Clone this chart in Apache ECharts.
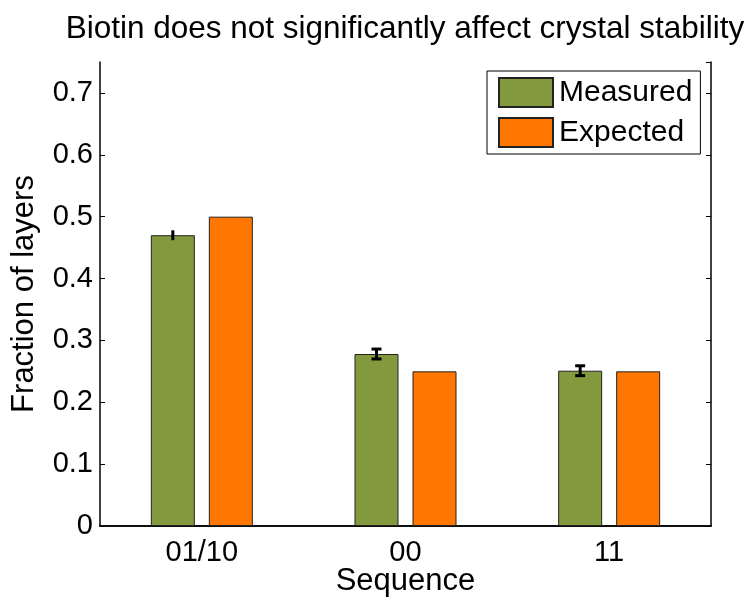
<!DOCTYPE html>
<html><head><meta charset="utf-8">
<script src="https://cdn.jsdelivr.net/npm/echarts@6/dist/echarts.min.js"></script>
<style>html,body{margin:0;padding:0;background:#fff}#c{width:749px;height:600px}</style>
</head><body><div id="c"></div>
<script>
var categories = ['01/10', '00', '11'];
var measured = [0.470, 0.278, 0.251];
var measuredErr = [0.008, 0.008, 0.008];
var expected = [0.5, 0.25, 0.25];
var yTicks = [0, 0.1, 0.2, 0.3, 0.4, 0.5, 0.6, 0.7];

var FONT = 'Liberation Sans';
var BAR_W = 44, BAR_GAP = 14;
var chart = echarts.init(document.getElementById('c'));

var errData = measured.map(function (v, i) { return [i, v, measuredErr[i]]; });

chart.setOption({
  animation: false,
  textStyle: { fontFamily: FONT, color: '#000' },
  title: {
    text: 'Biotin does not significantly affect crystal stability',
    left: 400, top: 8, textAlign: 'center',
    textStyle: { fontFamily: FONT, fontSize: 31.5, fontWeight: 'normal', color: '#000' }
  },
  grid: { left: 100, right: 38, top: 62, bottom: 74, containLabel: false, outerBoundsMode: 'none' },
  legend: {
    left: 487, top: 71, orient: 'vertical',
    padding: [6, 8, 6, 11], itemGap: 9,
    itemWidth: 54, itemHeight: 29, icon: 'rect',
    borderColor: '#000', borderWidth: 1, backgroundColor: '#fff',
    textStyle: { fontFamily: FONT, fontSize: 30, color: '#000', padding: [0, 0, 0, 1] },
    data: ['Measured', 'Expected']
  },
  xAxis: [{
    type: 'category', data: categories, position: 'bottom',
    name: 'Sequence', nameLocation: 'middle', nameGap: 40, nameMoveOverlap: false,
    nameTextStyle: { fontFamily: FONT, fontSize: 31, color: '#000' },
    axisLine: { lineStyle: { color: '#000', width: 1.5 } },
    axisTick: { alignWithLabel: true, inside: true, length: 5, lineStyle: { color: '#000' } },
    axisLabel: { fontFamily: FONT, fontSize: 29, color: '#000', margin: 12 }
  }, {
    type: 'category', data: categories, position: 'top',
    axisLine: { lineStyle: { color: '#000', width: 1.5 } },
    axisTick: { alignWithLabel: true, inside: true, length: 5, lineStyle: { color: '#000' } },
    axisLabel: { show: false }
  }],
  yAxis: [{
    type: 'value', min: 0, max: 0.75, interval: 0.1, position: 'left',
    name: 'Fraction of layers', nameLocation: 'middle', nameGap: 60, nameMoveOverlap: false,
    nameTextStyle: { fontFamily: FONT, fontSize: 31, color: '#000' },
    splitLine: { show: false },
    axisLine: { show: true, lineStyle: { color: '#000', width: 1.5 } },
    axisTick: { show: true, inside: true, length: 5, lineStyle: { color: '#000' } },
    axisLabel: { fontFamily: FONT, fontSize: 29, color: '#000', margin: 7, showMaxLabel: false,
      formatter: function (v) { return yTicks.indexOf(Math.round(v * 10) / 10) >= 0 && Math.abs(v * 10 - Math.round(v * 10)) < 1e-6 ? String(Math.round(v * 10) / 10) : ''; } }
  }, {
    type: 'value', min: 0, max: 0.75, interval: 0.1, position: 'right',
    splitLine: { show: false },
    axisLine: { show: true, lineStyle: { color: '#000', width: 1.5 } },
    axisTick: { show: true, inside: true, length: 5, lineStyle: { color: '#000' } },
    axisLabel: { show: false }
  }],
  series: [{
    name: 'Measured', type: 'bar', data: measured,
    barWidth: BAR_W, barGap: (BAR_GAP / BAR_W * 100) + '%',
    itemStyle: { color: '#83993d', borderColor: '#222', borderWidth: 1 }
  }, {
    name: 'Expected', type: 'bar', data: expected,
    barWidth: BAR_W,
    itemStyle: { color: '#ff7700', borderColor: '#222', borderWidth: 1 }
  }, {
    name: 'err', type: 'custom', data: errData, z: 10,
    renderItem: function (params, api) {
      var i = api.value(0), v = api.value(1), e = api.value(2);
      var off = -(BAR_W + BAR_GAP) / 2;
      var top = api.coord([i, v + e]);
      var bot = api.coord([i, v - e]);
      var x = top[0] + off;
      var cap = i === 0 ? 0 : 5;
      var style = { stroke: '#000', lineWidth: 3 };
      var ch = [{ type: 'line', shape: { x1: x, y1: top[1], x2: x, y2: bot[1] }, style: style }];
      if (cap) {
        ch.push({ type: 'line', shape: { x1: x - cap, y1: top[1], x2: x + cap, y2: top[1] }, style: style });
        ch.push({ type: 'line', shape: { x1: x - cap, y1: bot[1], x2: x + cap, y2: bot[1] }, style: style });
      }
      return { type: 'group', children: ch };
    }
  }]
});
</script></body></html>
